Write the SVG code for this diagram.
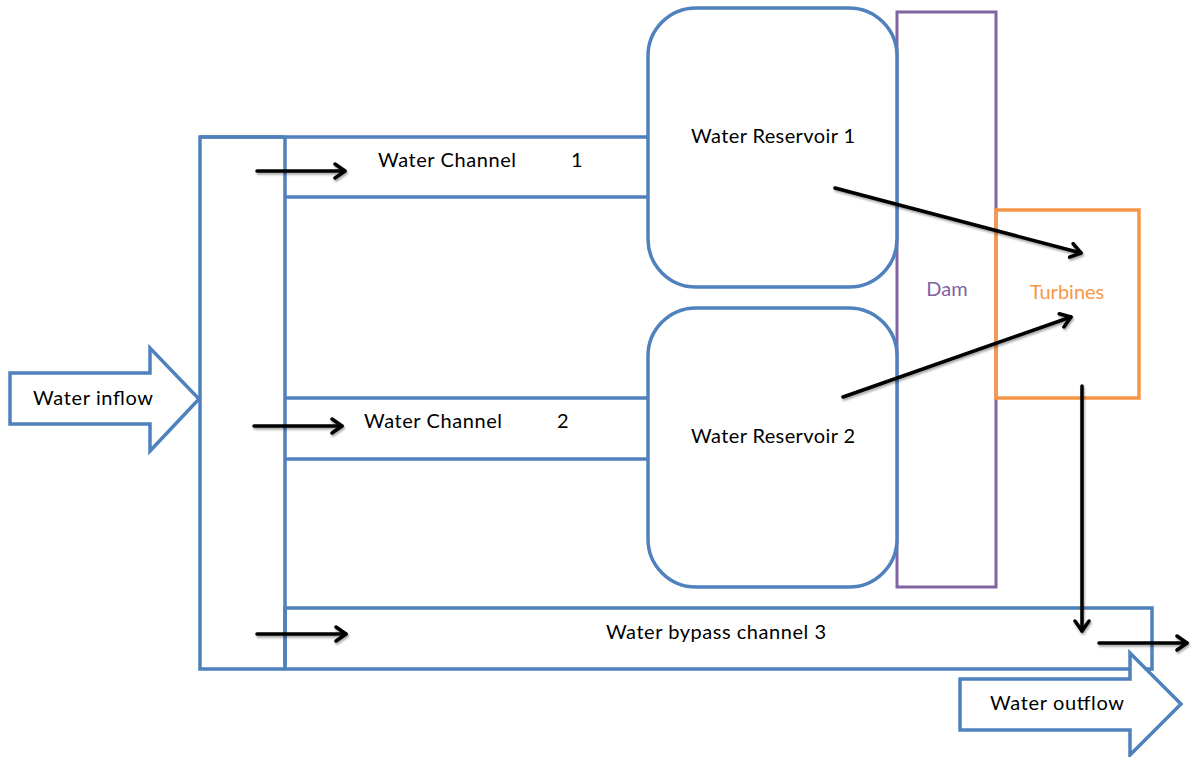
<svg xmlns="http://www.w3.org/2000/svg" width="1192" height="757" viewBox="0 0 1192 757">
  <style>
    .blue { fill: none; stroke: #4F81BD; stroke-width: 3.5; }
    .blockarrow { fill: #FFFFFF; stroke: #4F81BD; stroke-width: 3.5; stroke-linejoin: miter; }
    .res { fill: #FFFFFF; stroke: #4F81BD; stroke-width: 3.5; }
    .dam { fill: #FFFFFF; stroke: #8064A2; stroke-width: 3; }
    .turb { fill: none; stroke: #F79646; stroke-width: 3.5; }
    .lbl { font-family: "Lato", "Liberation Sans", sans-serif; font-size: 20px; fill: #000000; }
    .damlbl { fill: #8064A2; }
    .turblbl { fill: #F79646; }
    .flow { fill: none; stroke: #000000; stroke-width: 3.5; stroke-linecap: round; marker-end: url(#open); }
  </style>
  <defs>
    <marker id="open" viewBox="0 0 14 18" refX="12" refY="9" markerWidth="14" markerHeight="18" markerUnits="userSpaceOnUse" orient="auto">
      <path d="M2,2 L12,9 L2,16" fill="none" stroke="#000000" stroke-width="3.5" stroke-linecap="round" stroke-linejoin="round"/>
    </marker>
    <filter id="shade" filterUnits="userSpaceOnUse" x="0" y="0" width="1192" height="757">
      <feDropShadow dx="1" dy="2" stdDeviation="1.2" flood-color="#000000" flood-opacity="0.35"/>
    </filter>
  </defs>

  <rect width="1192" height="757" fill="#FFFFFF"/>

  <!-- intake frame and channels -->
  <g id="intake">
    <path class="blue" d="M285,137 H200 V669 H285"/>
    <line class="blue" x1="285" y1="137" x2="285" y2="669"/>
  </g>
  <g id="channel1">
    <line class="blue" x1="200" y1="137" x2="648" y2="137"/>
    <line class="blue" x1="285" y1="197" x2="648" y2="197"/>
    <text class="lbl" x="378" y="167" textLength="138" lengthAdjust="spacing">Water Channel</text>
    <text class="lbl" x="571" y="167">1</text>
  </g>
  <g id="channel2">
    <line class="blue" x1="285" y1="398" x2="648" y2="398"/>
    <line class="blue" x1="285" y1="459" x2="648" y2="459"/>
    <text class="lbl" x="364" y="428" textLength="138" lengthAdjust="spacing">Water Channel</text>
    <text class="lbl" x="557" y="428">2</text>
  </g>
  <g id="bypass">
    <rect class="blue" x="285" y="608" width="867" height="61"/>
    <text class="lbl" x="606" y="639" textLength="220" lengthAdjust="spacing">Water bypass channel 3</text>
  </g>

  <!-- dam wall behind the reservoirs -->
  <g id="dam">
    <rect class="dam" x="897" y="12" width="99" height="575"/>
    <text class="lbl damlbl" x="947" y="296" text-anchor="middle">Dam</text>
  </g>

  <g id="reservoir1">
    <rect class="res" x="648" y="8" width="249" height="279" rx="48" ry="48"/>
    <text class="lbl" x="691" y="143" textLength="164" lengthAdjust="spacing">Water Reservoir 1</text>
  </g>
  <g id="reservoir2">
    <rect class="res" x="648" y="308" width="249" height="279" rx="48" ry="48"/>
    <text class="lbl" x="691" y="443" textLength="164" lengthAdjust="spacing">Water Reservoir 2</text>
  </g>

  <g id="turbines">
    <rect class="turb" x="996" y="210" width="143" height="188"/>
    <text class="lbl turblbl" x="1067" y="299" text-anchor="middle">Turbines</text>
  </g>

  <g id="inflow">
    <polygon class="blockarrow" points="10,373 150,373 150,348 199,399 150,451 150,424 10,424"/>
    <text class="lbl" x="33" y="405" textLength="120" lengthAdjust="spacing">Water inflow</text>
  </g>
  <g id="outflow">
    <polygon class="blockarrow" points="960,679 1130,679 1130,653 1181,704 1130,755 1130,730 960,730"/>
    <text class="lbl" x="990" y="710" textLength="134" lengthAdjust="spacing">Water outflow</text>
  </g>

  <!-- flow connectors -->
  <g id="connectors" filter="url(#shade)">
    <line class="flow" x1="257" y1="171" x2="345" y2="171"/>
    <line class="flow" x1="254" y1="426" x2="342" y2="426"/>
    <line class="flow" x1="257" y1="634" x2="346" y2="634"/>
    <line class="flow" x1="835" y1="188" x2="1081" y2="253"/>
    <line class="flow" x1="843" y1="397" x2="1071" y2="317"/>
    <line class="flow" x1="1082" y1="386" x2="1082" y2="631"/>
    <line class="flow" x1="1099" y1="643" x2="1187" y2="643"/>
  </g>
</svg>
